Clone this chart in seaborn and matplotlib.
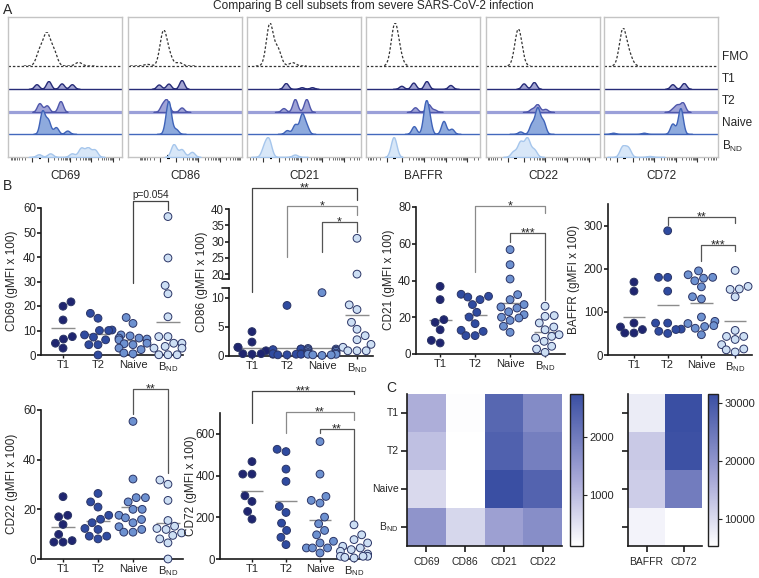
import numpy as np
import pandas as pd
import matplotlib
matplotlib.use("Agg")
import matplotlib.pyplot as plt
import seaborn as sns
from matplotlib.colors import LinearSegmentedColormap

# ---------------------------------------------------------------- data
groups = ["T1", "T2", "Naive", "BND"]
group_labels = ["T1", "T2", "Naive", r"B$_{ND}$"]

# panel B, gMFI x 100 per donor (T1, T2, Naive, BND)
cd69 = [
    [21.7, 19.9, 14.3, 7.5, 6.5, 4.8, 2.8],
    [17.0, 15.0, 10.2, 10.0, 10.0, 8.2, 7.3, 6.2, 4.2, 4.2, 0.0],
    [15.3, 12.9, 8.2, 7.8, 6.9, 6.9, 6.5, 6.2, 4.8, 4.6, 4.2, 2.8, 2.2, 0.8, 0.5],
    [56.5, 39.6, 28.4, 25.0, 15.6, 7.5, 7.5, 4.8, 4.8, 3.5, 2.8, 2.8, 0.1, 0.1, 0.1],
]
cd86 = [
    [4.2, 2.4, 1.5, 1.5, 0.9, 0.4, 0.4, 0.3],
    [8.7, 1.2, 1.2, 1.1, 0.4, 0.3, 0.3, 0.2, 0.3, 0.4, 0.2],
    [10.9, 1.3, 1.2, 1.1, 1.0, 0.9, 0.8, 0.6, 0.5, 0.4, 0.3, 0.3, 0.2, 0.2, 0.1],
    [31.0, 20.0, 8.8, 8.0, 5.8, 4.6, 3.5, 2.8, 2.0, 1.5, 0.9, 0.9, 0.9],
]
cd21 = [
    [36.8, 29.6, 18.7, 17.2, 13.2, 7.4, 6.0],
    [32.5, 31.4, 31.0, 29.6, 26.9, 22.7, 20.1, 16.5, 12.9, 12.3, 10.0, 10.0],
    [56.8, 48.6, 40.8, 32.3, 29.6, 26.9, 25.6, 25.0, 23.0, 21.4, 20.0, 19.6, 18.3, 15.1, 11.8],
    [26.0, 20.9, 20.5, 16.9, 14.7, 13.2, 10.5, 9.6, 8.7, 6.9, 4.2, 2.7, 0.9],
]
baffr = [
    [169, 148, 74, 65, 59, 51, 51],
    [288, 180, 180, 148, 74, 74, 60, 59, 55, 50],
    [195, 186, 180, 178, 172, 158, 135, 130, 88, 78, 73, 68, 66, 62, 47],
    [196, 159, 153, 152, 135, 57, 43, 43, 36, 24, 14, 12, 7],
]
cd22 = [
    [25.1, 17.6, 17.0, 13.9, 9.9, 7.4, 6.8, 6.8],
    [26.4, 23.0, 20.9, 17.6, 16.0, 14.6, 12.3, 11.9, 9.2, 9.2, 8.1],
    [55.4, 32.2, 24.7, 24.7, 23.0, 20.0, 20.0, 17.6, 16.6, 15.9, 14.6, 13.0, 11.9, 10.8, 10.8],
    [31.8, 30.1, 23.6, 15.5, 13.2, 12.3, 11.9, 10.5, 9.5, 8.1, 6.5, 0.0],
]
cd72 = [
    [467, 407, 407, 303, 276, 228, 191],
    [526, 515, 431, 372, 252, 223, 172, 137, 104, 69],
    [563, 407, 300, 281, 268, 201, 169, 137, 116, 85, 77, 53, 53, 53, 29],
    [164, 116, 93, 77, 61, 53, 45, 37, 24, 13, 13, 13, 8, 5],
]

# significance: (group a, group b, bar height, leg end a, leg end b, label, colour)
sig_cd69 = [(2, 3, 62.9, 29.4, 59.0, "p=0.054", "#444444")]
sig_cd86 = [(0, 3, 46.4, 14.6, 42.7, "**", "#444444"),
            (1, 3, 40.9, 25.2, 38.2, "*", "#8a8a8a"),
            (2, 3, 36.1, 26.7, 33.0, "*", "#555555")]
sig_cd21 = [(1, 3, 80.5, 44.6, 76.7, "*", "#8a8a8a"),
            (2, 3, 66.0, 61.0, 29.4, "***", "#555555")]
sig_baffr = [(1, 3, 321, 302, 307, "**", "#555555"),
             (2, 3, 256, 217, 240, "***", "#555555")]
sig_cd22 = [(2, 3, 68.4, 58.4, 34.8, "**", "#555555")]
sig_cd72 = [(0, 3, 806, 652, 790, "***", "#444444"),
            (1, 3, 705, 604, 667, "**", "#8a8a8a"),
            (2, 3, 623, 604, 187, "**", "#555555")]

# panel C heatmaps (gMFI)
heat_markers_1 = ["CD69", "CD86", "CD21", "CD22"]
heat_values_1 = [
    [1200, 150, 2350, 1750],
    [950, 120, 2450, 1950],
    [620, 110, 2750, 2400],
    [1600, 650, 1400, 1700],
]
heat_markers_2 = ["BAFFR", "CD72"]
heat_values_2 = [
    [8000, 31500],
    [12500, 31000],
    [12000, 24000],
    [7000, 5400],
]

# panel A: histogram modes (fluorescence axis, 0-1), weights, and modal counts
hist_markers = ["CD69", "CD86", "CD21", "BAFFR", "CD22", "CD72"]
hist_rows = ["FMO", "T1", "T2", "Naive", r"B$_{ND}$"]
cd69_modes = [[0.28, 0.34, 0.40, 0.62], [0.25, 0.355, 0.47, 0.56], [0.275, 0.34, 0.46],
              [0.30, 0.35, 0.42, 0.52], [0.27, 0.37, 0.56, 0.64, 0.70, 0.76]]
cd69_weights = [[0.5, 1, 0.5, 0.12], [0.6, 1, 0.7, 0.6], [0.8, 0.6, 1],
                [1, 0.6, 0.3, 0.15], [0.3, 0.4, 0.4, 1, 1, 0.8]]
cd69_counts = [34, 8, 11, 24, 10]
cd86_modes = [[0.17, 0.31, 0.36, 0.45], [0.27, 0.355, 0.47], [0.30, 0.34, 0.47],
              [0.34, 0.36, 0.42], [0.40, 0.47, 0.56]]
cd86_weights = [[0.05, 1, 0.3, 0.1], [0.5, 0.6, 1], [0.6, 1, 0.4],
                [0.5, 1, 0.2], [1, 0.6, 0.4]]
cd86_counts = [36, 9, 13, 33, 13]
cd21_modes = [[0.20, 0.27, 0.40], [0.34, 0.48, 0.57], [0.32, 0.42, 0.52],
              [0.35, 0.42, 0.48, 0.52], [0.15, 0.19, 0.42]]
cd21_weights = [[1, 0.4, 0.08], [1, 0.3, 0.3], [0.3, 1, 1],
                [0.2, 0.5, 1, 0.4], [0.6, 1, 0.15]]
cd21_counts = [43, 6, 13, 21, 20]
baffr_modes = [[0.25, 0.29], [0.31, 0.415, 0.53, 0.74], [0.43, 0.545, 0.60],
               [0.42, 0.52, 0.55, 0.68, 0.75], [0.24, 0.245]]
baffr_weights = [[1, 0.3], [0.4, 0.8, 1, 0.5], [0.6, 1, 0.3],
                 [0.3, 1, 0.6, 0.5, 0.2], [1, 1]]
baffr_counts = [43, 8, 8, 34, 20]
cd22_modes = [[0.28, 0.30], [0.33, 0.42], [0.40, 0.45, 0.52],
              [0.30, 0.40, 0.45, 0.50], [0.24, 0.30, 0.36, 0.42]]
cd22_weights = [[1, 0.3], [0.8, 1], [0.4, 1, 0.4],
                [0.1, 0.4, 1, 0.5], [0.3, 0.8, 1, 0.4]]
cd22_counts = [37, 7, 8, 27, 20]
cd72_modes = [[0.165, 0.22], [0.60, 0.70], [0.60, 0.64, 0.69],
              [0.08, 0.35, 0.60, 0.67], [0.16, 0.21, 0.40]]
cd72_weights = [[1, 0.3], [0.8, 1], [0.3, 0.7, 1],
                [0.05, 0.05, 0.4, 1], [1, 0.9, 0.1]]
cd72_counts = [38, 6, 10, 26, 12]

# ---------------------------------------------------------------- style
W, H = 759, 578
sns.set_theme(style="ticks")
plt.rcParams["font.family"] = ["Liberation Sans", "DejaVu Sans"]
plt.rcParams["mathtext.default"] = "regular"

dot_colors = ["#1f2570", "#2f4ba0", "#6d91d0", "#cddff4"]
dot_edge = "#2b3566"
row_edge = ["#333333", "#272c78", "#4f57ab", "#3f63b8", "#a6c6ec"]
row_fill = [None, "#a4a6d3", "#9fa3d7", "#8eaadd", "#d8e7f8"]
base_color = ["#333333", "#272c78", "#9ba0d9", "#4369bd", "#a6c6ec"]
base_lw = [0.9, 1.0, 2.3, 1.0, 0.0]
row_bw = [0.03, 0.022, 0.022, 0.022, 0.025]


def rect(l, t, r, b):
    return [l / W, 1 - b / H, (r - l) / W, (b - t) / H]


fig = plt.figure(figsize=(W / 100, H / 100), dpi=100)

fig.text(373 / W, 1 - 6 / H, "Comparing B cell subsets from severe SARS-CoV-2 infection",
         ha="center", va="center", fontsize=8.6)
for letter, x, y in [("A", 3, 10), ("B", 3, 186), ("C", 386, 388)]:
    fig.text(x / W, 1 - y / H, letter, fontsize=10, ha="left", va="center")

# ---------------------------------------------------------------- panel A
box_left = [8, 128, 247, 366, 486, 604]
box_zero = [0.28, 0.355, 0.21, 0.25, 0.26, 0.18]
BOX_W, BOX_TOP, BOX_BOT = 114, 17, 157
baselines = [66, 89, 112, 134, 157]
hist_sets = [
    (cd69_modes, cd69_weights, cd69_counts),
    (cd86_modes, cd86_weights, cd86_counts),
    (cd21_modes, cd21_weights, cd21_counts),
    (baffr_modes, baffr_weights, baffr_counts),
    (cd22_modes, cd22_weights, cd22_counts),
    (cd72_modes, cd72_weights, cd72_counts),
]

for m, marker in enumerate(hist_markers):
    left = box_left[m]
    box = fig.add_axes(rect(left, BOX_TOP, left + BOX_W, BOX_BOT))
    box.set_xlim(0, 1)
    box.set_ylim(0, 1)
    box.set_yticks([])
    for s in box.spines.values():
        s.set_color("#c4c4c4")
        s.set_linewidth(1)
    zero = box_zero[m]
    major, minor = [], []
    for d in range(4):
        for k in range(1, 10):
            p = zero + 0.07 + 0.19 * (d + np.log10(k))
            if p < 0.99:
                (major if k == 1 else minor).append(p)
    for k in range(1, 10):
        p = zero - 0.07 - 0.19 * np.log10(k)
        if p > 0.01:
            (major if k == 1 else minor).append(p)
    box.set_xticks(major)
    box.set_xticks(minor, minor=True)
    box.set_xticklabels([])
    box.tick_params(axis="x", which="major", length=3.5, width=0.8, color="#333333")
    box.tick_params(axis="x", which="minor", length=2, width=0.6, color="#555555")
    box.plot([zero - 0.012, zero + 0.012], [0, 0], color="black", lw=3,
             solid_capstyle="butt", clip_on=False, transform=box.transAxes,
             zorder=5)
    box.set_xlabel(marker, fontsize=8.5, labelpad=2)

    modes, weights, counts = hist_sets[m]
    for r in range(5):
        b = baselines[r]
        frac = (BOX_BOT - b) / (BOX_BOT - BOX_TOP)
        if base_lw[r] > 0:
            box.axhline(frac, color=base_color[r], lw=base_lw[r],
                        ls="--" if r == 0 else "-", dashes=(2, 1.5) if r == 0 else (None, None),
                        zorder=1)
        child = fig.add_axes(rect(left, b - counts[r], left + BOX_W, b))
        child.axis("off")
        child.patch.set_alpha(0)
        pos = np.array(modes[r], float)
        w = np.array(weights[r], float)
        sd = np.sqrt(np.cov(pos, aweights=w))
        if r == 0:
            sns.kdeplot(x=pos, weights=w, bw_method=row_bw[r] / sd, ax=child,
                        color=row_edge[r], lw=0.9, ls=(0, (2, 1.5)))
            top = child.lines[0].get_ydata().max()
        else:
            sns.kdeplot(x=pos, weights=w, bw_method=row_bw[r] / sd, ax=child,
                        fill=True, facecolor=row_fill[r], edgecolor=row_edge[r],
                        linewidth=1)
            top = child.collections[0].get_paths()[0].vertices[:, 1].max()
        child.set_xlim(0, 1)
        child.set_ylim(0, top)

row_label_y = [57, 79, 101, 123, 146]
for lab, y in zip(hist_rows, row_label_y):
    fig.text(722 / W, 1 - y / H, lab, fontsize=8.5, ha="left", va="center")


# ---------------------------------------------------------------- panel B
def style_axis(ax, ylim, yticks, xlim):
    ax.set_ylim(*ylim)
    ax.set_yticks(yticks)
    ax.set_xlim(*xlim)
    ax.set_xlabel("")
    ax.set_ylabel("")
    sns.despine(ax=ax)
    for s in ["left", "bottom"]:
        ax.spines[s].set_linewidth(1.2)
        ax.spines[s].set_color("#1a1a1a")
    ax.tick_params(axis="y", length=3, width=1.2, labelsize=8.3, pad=0.5,
                   color="#1a1a1a")
    ax.tick_params(axis="x", length=2.5, width=1, labelsize=8, pad=1,
                   color="#1a1a1a")
    ax.set_xticks(range(4))
    ax.set_xticklabels(group_labels)


def dots(ax, values, lo=-np.inf, hi=np.inf, unclip=True):
    df = pd.DataFrame({"subset": np.repeat(groups, [len(v) for v in values]),
                       "gmfi": np.concatenate(values)})
    means = df.groupby("subset")["gmfi"].mean().reindex(groups)
    df = df[(df["gmfi"] >= lo) & (df["gmfi"] <= hi)]
    sns.swarmplot(data=df, x="subset", y="gmfi", hue="subset", order=groups,
                  hue_order=groups, palette=dot_colors, size=5.6, edgecolor=dot_edge,
                  linewidth=0.7, legend=False, ax=ax, zorder=3)
    if unclip:
        for c in ax.collections:
            if len(c.get_offsets()):
                c.set_clip_on(False)
    keep = (means >= lo) & (means <= hi)
    x = np.arange(4)[keep.values]
    ax.hlines(means[keep].values, x - 0.33, x + 0.33, color="#8c8c8c", lw=1, zorder=2)


def brackets(ax, sigs):
    for a, b, y, ya, yb, lab, col in sigs:
        ax.plot([a, a, b, b], [ya, y, y, yb], color=col, lw=0.9, clip_on=False, zorder=4)
        if lab.startswith("p"):
            ax.annotate(lab, xy=((a + b) / 2, y), xytext=(0, 1), textcoords="offset points",
                        ha="center", va="bottom", fontsize=7.3, annotation_clip=False)
        else:
            ax.annotate(lab, xy=((a + b) / 2, y), xytext=(0, -2.5), textcoords="offset points",
                        ha="center", va="baseline", fontsize=9, annotation_clip=False)


def ylab(x, y, text):
    fig.text(x / W, 1 - y / H, text, rotation=90, ha="center", va="center", fontsize=8.5)


panels = [
    (cd69, (41, 208, 183, 355), (0, 60), range(0, 61, 10), (-0.63, 3.43), sig_cd69,
     (12, 281), "CD69 (gMFI x 100)"),
    (cd21, (416, 207, 565, 354), (0, 80), range(0, 81, 20), (-0.69, 3.57), sig_cd21,
     (389, 280), "CD21 (gMFI x 100)"),
    (baffr, (608, 204, 752, 355), (0, 350), range(0, 301, 100), (-0.77, 3.5), sig_baffr,
     (574, 279), "BAFFR (gMFI x 100)"),
    (cd22, (41, 410, 183, 559), (0, 60), range(0, 61, 20), (-0.63, 3.43), sig_cd22,
     (12, 484), "CD22 (gMFI x 100)"),
    (cd72, (220, 413, 370, 559), (0, 700), range(0, 601, 200), (-0.94, 3.47), sig_cd72,
     (191, 486), "CD72 (gMFI x 100)"),
]
for values, box_px, ylim, yticks, xlim, sigs, lab_xy, lab in panels:
    ax = fig.add_axes(rect(*box_px))
    dots(ax, values)
    style_axis(ax, ylim, yticks, xlim)
    brackets(ax, sigs)
    ylab(*lab_xy, lab)

# CD86 with a broken y axis
cd86_x = (-0.657, 3.457)
ax_lo = fig.add_axes(rect(229, 288, 373, 356))
dots(ax_lo, cd86, hi=11.7)
style_axis(ax_lo, (0, 11.7), [0, 5, 10], cd86_x)
ax_hi = fig.add_axes(rect(229, 209, 373, 279))
dots(ax_hi, cd86, lo=18.8, unclip=False)
style_axis(ax_hi, (18.5, 40), range(20, 41, 5), cd86_x)
ax_hi.spines["bottom"].set_visible(False)
ax_hi.tick_params(axis="x", length=0, labelbottom=False)
ax_hi.patch.set_alpha(0)
for a, yy in [(ax_hi, 0), (ax_lo, 1)]:
    a.plot([-0.05, 0], [yy, yy], transform=a.transAxes, color="#1a1a1a", lw=1.2,
           clip_on=False)
brackets(ax_hi, sig_cd86)
ylab(202, 282, "CD86 (gMFI x 100)")

# ---------------------------------------------------------------- panel C
heat_cmap = LinearSegmentedColormap.from_list(
    "blues", [(0, "#ffffff"), (0.45, "#a5a6d6"), (1, "#3a4fa3")])

hm1 = pd.DataFrame(heat_values_1, index=group_labels, columns=heat_markers_1)
hm2 = pd.DataFrame(heat_values_2, index=group_labels, columns=heat_markers_2)

for df, hrect, crect, ticks, show_y in [
    (hm1, (407, 394, 562, 546), (570, 394, 583, 546), [1000, 2000], True),
    (hm2, (628, 394, 702, 546), (708, 394, 718, 546), [10000, 20000, 30000], False),
]:
    hax = fig.add_axes(rect(*hrect))
    cax = fig.add_axes(rect(*crect))
    sns.heatmap(df, cmap=heat_cmap, ax=hax, cbar_ax=cax, linewidths=0,
                vmin=df.values.min(), vmax=df.values.max())
    for s in ["left", "bottom"]:
        hax.spines[s].set_visible(True)
        hax.spines[s].set_linewidth(1.2)
        hax.spines[s].set_color("#1a1a1a")
    hax.set_yticks(np.arange(4) + 0.5)
    hax.set_yticklabels(group_labels if show_y else [], rotation=0)
    hax.set_xticks(np.arange(len(df.columns)) + 0.5)
    hax.set_xticklabels(df.columns, rotation=0)
    hax.tick_params(length=4, width=1.2, color="#1a1a1a", labelsize=7.5, pad=2)
    hax.tick_params(axis="x", pad=4)
    hax.set_xlabel("")
    hax.set_ylabel("")
    cbar = hax.collections[0].colorbar
    cbar.set_ticks(ticks)
    cbar.outline.set_linewidth(1)
    cbar.outline.set_edgecolor("#222222")
    cax.tick_params(length=3, width=0.8, labelsize=8, pad=1.5)

fig.savefig("out.png", dpi=100)
